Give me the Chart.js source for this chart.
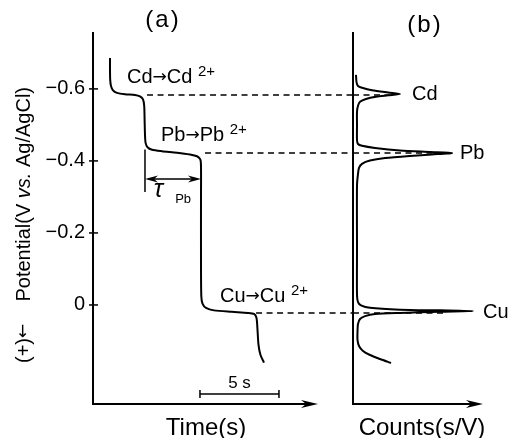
<!DOCTYPE html>
<html>
<head>
<meta charset="utf-8">
<script src="https://cdn.jsdelivr.net/npm/chart.js@4.4.1/dist/chart.umd.min.js"></script>
<style>
  body { margin: 0; background: #fff; }
  #wrap { position: relative; width: 518px; height: 438px; }
  #wrap canvas { position: absolute; left: 0; top: 0; }
</style>
</head>
<body>
<div id="wrap">
  <canvas id="chronoChart" width="518" height="438"></canvas>
  <canvas id="countsChart" width="518" height="438"></canvas>
</div>
<script>
// (a) stripping chronopotentiogram: potential vs time
const timeValues = [1.076, 1.076, 1.089, 1.139, 1.266, 1.519, 2.025, 2.658, 2.975, 3.165,
  3.241, 3.266, 3.291, 3.329, 3.449, 3.734, 4.367, 5.316, 6.139, 6.582,
  6.791, 6.835, 6.835, 6.835, 6.854, 6.930, 7.152, 7.658, 8.797, 9.810,
  10.190, 10.348, 10.411, 10.475, 10.601, 10.823];
const potentialValues = [-0.686, -0.653, -0.625, -0.608, -0.596, -0.589, -0.585, -0.583, -0.579, -0.571,
  -0.553, -0.514, -0.472, -0.450, -0.438, -0.431, -0.427, -0.423, -0.418, -0.413,
  -0.404, -0.386, -0.292, -0.125, -0.025, -0.004, 0.008, 0.015, 0.019, 0.022,
  0.025, 0.036, 0.069, 0.111, 0.139, 0.160];

// (b) same record as counts (dt/dE) vs potential
const countValues = [3, 3.5, 5, 9, 19, 35, 47, 35, 23, 13,
  7, 5, 4, 4, 4, 5, 9, 22, 47, 77,
  99, 79, 57, 32, 17, 9, 6, 5, 4, 4,
  4, 5, 8, 17, 47, 87, 120, 87, 47, 22,
  12, 7, 5, 4.5, 4.5, 6, 10, 17, 27, 38];
const countPotentials = [-0.639, -0.619, -0.608, -0.603, -0.596, -0.590, -0.586, -0.582, -0.578, -0.572,
  -0.564, -0.553, -0.536, -0.500, -0.458, -0.447, -0.442, -0.436, -0.429, -0.425,
  -0.422, -0.418, -0.414, -0.408, -0.401, -0.392, -0.381, -0.364, -0.333, -0.153,
  -0.028, -0.008, 0.001, 0.008, 0.013, 0.015, 0.017, 0.019, 0.022, 0.025,
  0.031, 0.039, 0.053, 0.075, 0.097, 0.114, 0.128, 0.139, 0.150, 0.161];

const metals = ['Cd', 'Pb', 'Cu'];
const plateauPotentials = [-0.583, -0.422, 0.022];
const plateauStarts = [3.42, 7.09, 10.32];   // s, where the guide line leaves the curve
const guideReach = [37, 92, 90];             // counts, where the guide line stops in (b)
const potentialTicks = [-0.6, -0.4, -0.2, 0];
const tauPb = [3.29, 6.835];                 // s, transition time of Pb
const scaleBar = [6.77, 11.77];              // s, 5 s bar

const FONT = "'Liberation Sans', Arial, Helvetica, sans-serif";
const ARROW_FONT = "'DejaVu Sans', sans-serif";
const black = '#000';
const font = (size, style) => (style ? style + ' ' : '') + size + 'px ' + FONT;
Chart.defaults.font.family = FONT;
Chart.defaults.color = black;

const toPoints = (xs, ys) => xs.map((x, i) => ({x: x, y: ys[i]}));

function arrowHead(ctx, x, y, dir, len, half) {
  ctx.beginPath();
  ctx.moveTo(x, y);
  ctx.lineTo(x - dir * len, y - half);
  ctx.lineTo(x - dir * len * 0.7, y);
  ctx.lineTo(x - dir * len, y + half);
  ctx.closePath();
  ctx.fill();
}

function drawFrame(ctx, a) {
  ctx.lineWidth = 2;
  ctx.beginPath();
  ctx.moveTo(a.left, a.top);
  ctx.lineTo(a.left, a.bottom);
  ctx.lineTo(a.right - 10, a.bottom);
  ctx.stroke();
  arrowHead(ctx, a.right, a.bottom, 1, 17, 4);
}

// writes text pieces one after another; each piece is [text, font, dy]
function runText(ctx, x, y, pieces) {
  pieces.forEach(([t, f, dy]) => {
    ctx.font = f;
    ctx.fillText(t, x, y + (dy || 0));
    x += ctx.measureText(t).width;
  });
}

function chemLabel(ctx, x, y, metal) {
  runText(ctx, x, y, [
    [metal, font(20)],
    ['\u2192', '17px ' + ARROW_FONT, -1],
    [metal + ' ', font(20)],
    ['2+', font(15), -7]
  ]);
}

const chronoDecor = {
  id: 'chronoDecor',
  afterDraw(chart) {
    const {ctx, chartArea: a, scales: {x, y}} = chart;
    ctx.save();
    ctx.strokeStyle = black;
    ctx.fillStyle = black;
    drawFrame(ctx, a);

    // tick marks crossing the potential axis
    ctx.lineWidth = 1.5;
    potentialTicks.forEach(v => {
      const py = y.getPixelForValue(v);
      ctx.beginPath();
      ctx.moveTo(a.left - 4, py);
      ctx.lineTo(a.left + 5, py);
      ctx.stroke();
    });

    // transition time of Pb
    const tx0 = x.getPixelForValue(tauPb[0]);
    const tx1 = x.getPixelForValue(tauPb[1]);
    const ty = y.getPixelForValue(-0.35);
    ctx.beginPath();
    ctx.moveTo(tx0, y.getPixelForValue(-0.432));
    ctx.lineTo(tx0, y.getPixelForValue(-0.314));
    ctx.moveTo(tx0 + 6, ty);
    ctx.lineTo(tx1 - 6, ty);
    ctx.stroke();
    arrowHead(ctx, tx0, ty, -1, 13, 3.5);
    arrowHead(ctx, tx1, ty, 1, 13, 3.5);
    ctx.font = font(25, 'italic');
    ctx.fillText('\u03c4', x.getPixelForValue(3.85), y.getPixelForValue(-0.3));
    ctx.font = font(13);
    ctx.fillText('Pb', x.getPixelForValue(5.2), y.getPixelForValue(-0.283));

    // 5 s bar
    const bx0 = x.getPixelForValue(scaleBar[0]);
    const bx1 = x.getPixelForValue(scaleBar[1]);
    const by = y.getPixelForValue(0.247);
    ctx.beginPath();
    ctx.moveTo(bx0, by); ctx.lineTo(bx1, by);
    ctx.moveTo(bx0, by - 4); ctx.lineTo(bx0, by + 4);
    ctx.moveTo(bx1, by - 4); ctx.lineTo(bx1, by + 4);
    ctx.stroke();
    ctx.font = font(17);
    ctx.textAlign = 'center';
    ctx.fillText('5 s', (bx0 + bx1) / 2, by - 6);

    ctx.font = font(24);
    ctx.fillText('Time(s)', 206, 435);
    ctx.letterSpacing = '2px';
    ctx.fillText('(a)', 163, 27);
    ctx.letterSpacing = '0px';

    // reactions on the plateaus
    ctx.textAlign = 'left';
    chemLabel(ctx, x.getPixelForValue(2.15), y.getPixelForValue(-0.617), 'Cd');
    chemLabel(ctx, x.getPixelForValue(4.3), y.getPixelForValue(-0.456), 'Pb');
    chemLabel(ctx, x.getPixelForValue(8.04), y.getPixelForValue(-0.008), 'Cu');

    // potential axis title, read bottom to top
    ctx.translate(24, 363);
    ctx.rotate(-Math.PI / 2);
    ctx.textBaseline = 'middle';
    runText(ctx, 0, 0, [
      ['(+)', font(20)],
      ['\u2190', '17px ' + ARROW_FONT],
      ['    Potential(V ', font(20)],
      ['vs.', font(20, 'italic')],
      [' Ag/AgCl)', font(20)]
    ]);
    ctx.restore();
  }
};

const countsDecor = {
  id: 'countsDecor',
  afterDraw(chart) {
    const {ctx, chartArea: a, scales: {x, y}} = chart;
    ctx.save();
    ctx.strokeStyle = black;
    ctx.fillStyle = black;
    drawFrame(ctx, a);
    ctx.font = font(20);
    ctx.fillText('Cd', x.getPixelForValue(59), y.getPixelForValue(-0.569));
    ctx.fillText('Pb', x.getPixelForValue(107), y.getPixelForValue(-0.406));
    ctx.fillText('Cu', x.getPixelForValue(130), y.getPixelForValue(0.036));
    ctx.font = font(24);
    ctx.textAlign = 'center';
    ctx.fillText('Counts(s/V)', 422, 435);
    ctx.letterSpacing = '2px';
    ctx.fillText('(b)', 425, 32);
    ctx.restore();
  }
};

const guideStyle = {borderColor: black, borderWidth: 1.5, borderDash: [6, 4.5], pointRadius: 0, showLine: true, clip: false};

const potentialScale = {
  type: 'linear', reverse: true, min: -0.758, max: 0.275
};

new Chart(document.getElementById('chronoChart'), {
  type: 'scatter',
  data: {
    datasets: [{
      data: toPoints(timeValues, potentialValues),
      showLine: true, borderColor: black, borderWidth: 2, pointRadius: 0, tension: 0.25
    }].concat(metals.map((m, i) => Object.assign({
      label: m,
      data: [{x: plateauStarts[i], y: plateauPotentials[i]}, {x: 16.46, y: plateauPotentials[i]}]
    }, guideStyle)))
  },
  options: {
    responsive: false,
    animation: false,
    events: [],
    layout: {padding: {left: 0, top: 32, right: 200, bottom: 34}},
    plugins: {legend: {display: false}, tooltip: {enabled: false}},
    scales: {
      x: {type: 'linear', min: 0, max: 14.24, display: false},
      y: Object.assign({}, potentialScale, {
        afterFit: s => { s.width = 93; },
        afterBuildTicks: s => { s.ticks = potentialTicks.map(v => ({value: v})); },
        grid: {display: false, drawTicks: false},
        border: {display: false},
        ticks: {
          padding: 8, color: black, font: {size: 20},
          callback: v => v === 0 ? '0' : v.toFixed(1).replace('-', '\u2212')
        }
      })
    }
  },
  plugins: [chronoDecor]
});

new Chart(document.getElementById('countsChart'), {
  type: 'scatter',
  data: {
    datasets: [{
      data: toPoints(countValues, countPotentials),
      showLine: true, borderColor: black, borderWidth: 2, pointRadius: 0, tension: 0.25
    }].concat(metals.map((m, i) => Object.assign({
      label: m,
      data: [{x: 0, y: plateauPotentials[i]}, {x: guideReach[i], y: plateauPotentials[i]}]
    }, guideStyle)))
  },
  options: {
    responsive: false,
    animation: false,
    events: [],
    layout: {padding: {left: 353, top: 32, right: 35, bottom: 34}},
    plugins: {legend: {display: false}, tooltip: {enabled: false}},
    scales: {
      x: {type: 'linear', min: 0, max: 130, display: false},
      y: Object.assign({}, potentialScale, {display: false})
    }
  },
  plugins: [countsDecor]
});
</script>
</body>
</html>
